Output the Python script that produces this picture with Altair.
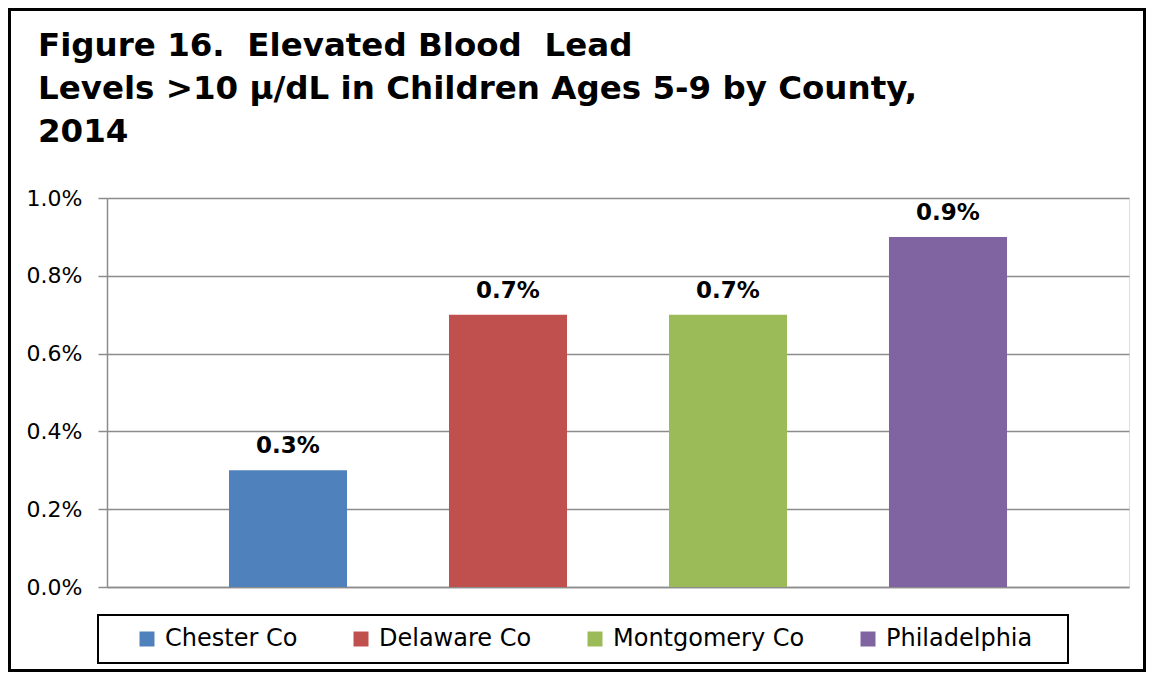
import altair as alt
import pandas as pd

counties = ["Chester Co", "Delaware Co", "Montgomery Co", "Philadelphia"]
rates = [0.003, 0.007, 0.007, 0.009]
labels = ["0.3%", "0.7%", "0.7%", "0.9%"]
colors = ["#4F81BD", "#C0504D", "#9BBB59", "#8064A2"]
y_ticks = [0.0, 0.002, 0.004, 0.006, 0.008, 0.010]
title_lines = [
    "Figure 16.\u00a0 Elevated Blood\u00a0 Lead",
    "Levels >10 \u03bc/dL in Children Ages 5-9 by County,",
    "2014",
]

df = pd.DataFrame({"County": counties, "Rate": rates, "Label": labels})

W, H = 1022, 389
FONT = "DejaVu Sans"
GRID = "#8c8c8c"

base = alt.Chart(df)

x = alt.X(
    "County:N",
    sort=counties,
    scale=alt.Scale(paddingInner=0.4636, paddingOuter=0.5545),
    axis=alt.Axis(labels=False, ticks=False, title=None, domainColor=GRID, domainWidth=1.5),
)
y = alt.Y(
    "Rate:Q",
    scale=alt.Scale(domain=[0, 0.01], nice=False),
    axis=alt.Axis(
        values=y_ticks,
        format=".1%",
        title=None,
        labelFont=FONT,
        labelFontSize=22,
        labelColor="black",
        labelPadding=16,
        tickSize=9,
        tickColor=GRID,
        tickWidth=1.5,
        domainColor=GRID,
        domainWidth=1.5,
        gridColor=GRID,
        gridWidth=1.5,
    ),
)

bars = base.mark_bar().encode(
    x=x,
    y=y,
    color=alt.Color(
        "County:N",
        sort=counties,
        scale=alt.Scale(domain=counties, range=colors),
        legend=alt.Legend(
            orient="none",
            legendX=28,
            legendY=429,
            direction="horizontal",
            title=None,
            symbolType="square",
            symbolSize=225,
            symbolStrokeWidth=0,
            labelFont=FONT,
            labelFontSize=24,
            labelColor="black",
            labelOffset=6,
            labelLimit=400,
            columnPadding=51,
            padding=0,
        ),
    ),
)

text = base.mark_text(
    dy=-17, baseline="alphabetic", font=FONT, fontSize=23, fontWeight="bold", color="black"
).encode(x=alt.X("County:N", sort=counties), y="Rate:Q", text="Label:N")

one = pd.DataFrame({"k": [0]})
legend_box = alt.Chart(one).mark_rect(fillOpacity=0, stroke="black", strokeWidth=2).encode(
    x=alt.value(-9), x2=alt.value(961), y=alt.value(417), y2=alt.value(465)
)
frame = alt.Chart(one).mark_rect(fillOpacity=0, stroke="black", strokeWidth=3).encode(
    x=alt.value(-97.5), x2=alt.value(1037.5), y=alt.value(-188.5), y2=alt.value(472.5)
)

chart = (
    alt.layer(bars, text, legend_box, frame)
    .properties(
        width=W,
        height=H,
        padding={"left": 99, "top": 190, "right": 17, "bottom": 85},
        autosize=alt.AutoSizeParams(type="none"),
        title=alt.Title(
            title_lines,
            anchor="start",
            frame="group",
            font=FONT,
            fontSize=32.5,
            fontWeight="bold",
            color="black",
            lineHeight=43,
            baseline="top",
            dx=-69,
            dy=140,
            offset=0,
        ),
    )
    .configure_view(stroke=None)
    .configure(background="white")
)

chart.save("out.html", embed_options={"renderer": "svg", "actions": False})
